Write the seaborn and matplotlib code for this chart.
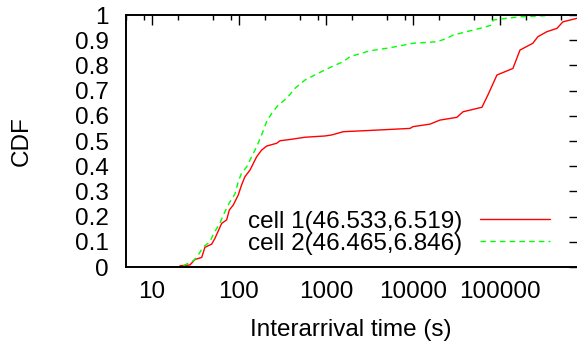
import matplotlib
matplotlib.use("Agg")
import matplotlib.pyplot as plt
import seaborn as sns
import numpy as np
import pandas as pd
from matplotlib.ticker import LogLocator, NullFormatter

# --- values (interarrival time in s, CDF) ---
cell1_label = "cell 1(46.533,6.519)"
cell1_time = [21.0, 27.3, 31.2, 37.3, 40.6, 48.6, 53.0, 63.2, 72.2, 77.4, 86.0, 98.2,
              107, 117, 134, 140, 160, 182, 208, 271, 296, 403, 574, 974, 1163, 1581,
              3200, 9240, 10000, 15700, 20400, 32000, 37600, 62100, 72800, 92400,
              141000, 170000, 239000, 273000, 347000, 452000, 530000, 768000]
cell1_cdf = [0.005, 0.008, 0.03, 0.038, 0.078, 0.091, 0.114, 0.173, 0.187, 0.226, 0.246, 0.286,
             0.325, 0.358, 0.385, 0.398, 0.438, 0.464, 0.48, 0.491, 0.501, 0.507, 0.515, 0.52, 0.524, 0.537,
             0.542, 0.55, 0.557, 0.567, 0.583, 0.594, 0.616, 0.634, 0.683, 0.762,
             0.788, 0.861, 0.888, 0.914, 0.934, 0.947, 0.973, 0.987]

cell2_label = "cell 2(46.465,6.846)"
cell2_time = [22.9, 29.8, 32.7, 38.9, 46.4, 50.7, 60.5, 69.0, 78.8, 90.0, 98.2, 107,
              123, 140, 160, 182, 208, 238, 283, 353, 440, 574, 815, 1163, 1581, 1890,
              3200, 5450, 10000, 18900, 24400, 28800, 41400, 58900, 80400, 83800,
              100000, 170000, 490000, 768000]
cell2_cdf = [0.005, 0.025, 0.038, 0.08, 0.1, 0.13, 0.175, 0.22, 0.259, 0.29, 0.339, 0.372,
             0.398, 0.438, 0.478, 0.524, 0.577, 0.61, 0.643, 0.669, 0.709, 0.742, 0.769, 0.795, 0.815, 0.835,
             0.858, 0.87, 0.888, 0.894, 0.907, 0.92, 0.934, 0.947, 0.96, 0.98,
             0.984, 0.993, 1.0, 1.0]

y_ticks = [0, 0.1, 0.2, 0.3, 0.4, 0.5, 0.6, 0.7, 0.8, 0.9, 1.0]
y_tick_labels = ["0", "0.1", "0.2", "0.3", "0.4", "0.5", "0.6", "0.7", "0.8", "0.9", "1"]
x_ticks = [10, 100, 1000, 10000, 100000]
x_tick_labels = ["10", "100", "1000", "10000", "100000"]

df = pd.concat([
    pd.DataFrame({"time": cell1_time, "cdf": cell1_cdf, "cell": cell1_label}),
    pd.DataFrame({"time": cell2_time, "cdf": cell2_cdf, "cell": cell2_label}),
], ignore_index=True)

sns.set_theme(style="white")
plt.rcParams["font.family"] = ["Liberation Sans", "DejaVu Sans"]
plt.rcParams["text.color"] = "black"
plt.rcParams["axes.labelcolor"] = "black"
plt.rcParams["xtick.color"] = "black"
plt.rcParams["ytick.color"] = "black"
fs = 17.5

fig = plt.figure(figsize=(5.77, 3.47), dpi=100)
ax = fig.add_axes([0.218, 0.2305, 0.7846, 0.7262])

sns.lineplot(data=df, x="time", y="cdf", hue="cell", style="cell",
             palette={cell1_label: "#ff0000", cell2_label: "#00ff00"},
             dashes={cell1_label: "", cell2_label: (4, 3)},
             sort=False, estimator=None, linewidth=1.0, legend=False, ax=ax)

ax.set_xscale("log")
ax.set_xlim(5, 8e5)
ax.set_ylim(0, 1)
ax.set_xticks(x_ticks)
ax.set_xticklabels(x_tick_labels)
ax.xaxis.set_minor_locator(LogLocator(base=10, subs=[2, 5, 8]))
ax.xaxis.set_minor_formatter(NullFormatter())
ax.set_yticks(y_ticks)
ax.set_yticklabels(y_tick_labels)

for s in ax.spines.values():
    s.set_linewidth(1.4)
    s.set_color("black")
ax.tick_params(which="both", direction="in", top=True, right=True, color="black", width=1.0)
ax.tick_params(which="major", length=7.5)
ax.tick_params(which="minor", length=3.8)
ax.tick_params(axis="y", labelsize=fs, pad=12.5, labelcolor="black")
ax.tick_params(axis="x", labelsize=fs, pad=10, labelcolor="black")

ax.set_xlabel("Interarrival time (s)", fontsize=fs, color="black")
ax.set_ylabel("CDF", fontsize=fs, color="black")
ax.xaxis.label.set_va("center")
ax.yaxis.label.set_va("center")
ax.xaxis.set_label_coords(0.497, -0.25)
ax.yaxis.set_label_coords(-0.229, 0.5)
ax.grid(False)

handles = ax.lines[:2]
leg = ax.legend(handles, [cell1_label, cell2_label], fontsize=fs, frameon=False,
                markerfirst=False, loc="lower right",
                bbox_to_anchor=(550 / 577, 92 / 347), bbox_transform=fig.transFigure,
                borderpad=0, borderaxespad=0, handlelength=2.9, handletextpad=0.7,
                labelspacing=0.0)
for t in leg.get_texts():
    t.set_color("black")

fig.savefig("out.png", dpi=100)
